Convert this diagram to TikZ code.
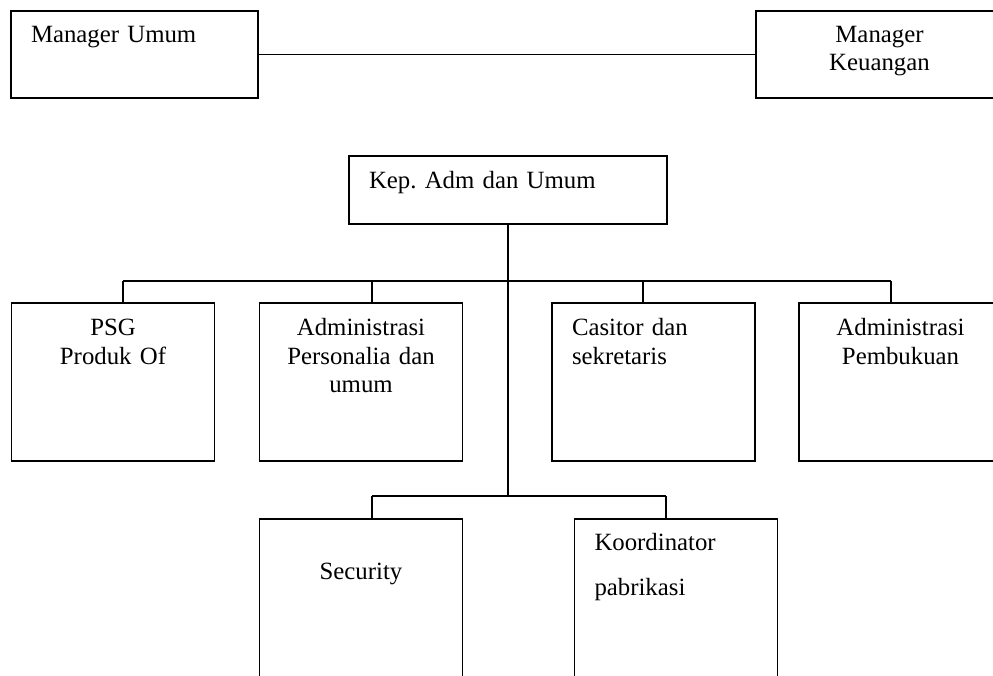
\documentclass[tikz,border=0pt]{standalone}
\usepackage{fontspec}
\setmainfont{Liberation Serif}
\usepackage{tikz}
\usetikzlibrary{positioning}
\frenchspacing
\tikzset{
  unit/.style={draw,line width=1.8pt,inner sep=0pt,font=\fontsize{24.8}{28.5}\selectfont},
  mid/.style={unit,align=center},
  lft/.style={unit,align=left,inner xsep=20pt},
  link/.style={line width=1.8pt},
}

\begin{document}
\begin{tikzpicture}[x=1pt,y=-1pt]
\useasboundingbox (0,0) rectangle (993,675);
\clip (0,0) rectangle (993,675);
% managers
\node[lft,text width=207pt,text height=31pt,text depth=56pt] (mu) at (134.5,54.5) {Manager Umum};
\node[mid,text width=247pt,text height=31pt,text depth=56pt] (mk) at (879.5,54.5) {Manager\\Keuangan};
\node[lft,text width=278pt,text height=32pt,text depth=36pt] (kep) at (508,190) {Kep. Adm dan Umum};
% first row
\node[mid,text width=203pt,text height=32.5pt,text depth=125.5pt] (psg) at (113,382) {PSG\\Produk Of};
\node[mid,text width=203pt,text height=32.5pt,text depth=125.5pt] (adp) at (361,382) {Administrasi\\Personalia dan\\umum};
\node[lft,text width=163pt,text height=32.5pt,text depth=125.5pt] (cas) at (653.5,382) {Casitor dan\\sekretaris};
\node[mid,text width=203pt,text height=32.5pt,text depth=125.5pt] (pemb) at (900.5,382) {Administrasi\\Pembukuan};
% second row
\node[mid,text width=203pt,text height=60pt,text depth=98pt] (sec) at (361,598) {Security};
\node[lft,text width=163pt,text height=31pt,text depth=127pt] (kor) at (676,598) {Koordinator\\[16.5pt]pabrikasi};
% branch points
\coordinate (t1) at (123,281);
\coordinate (t2) at (372,281);
\coordinate (t3) at (643,281);
\coordinate (t4) at (891,281);
\coordinate (u1) at (372,496);
\coordinate (u2) at (666,496);
\draw[link] (mu) -- (mk);
\draw[link] (kep.south) -- (kep.south |- u1);
\draw[link] (t1) -- (t4);
\draw[link] (u1) -- (u2);
\foreach \t/\b in {t1/psg,t2/adp,t3/cas,t4/pemb,u1/sec,u2/kor}
  \draw[link] (\t) -- (\t |- \b.north);
\end{tikzpicture}
\end{document}
